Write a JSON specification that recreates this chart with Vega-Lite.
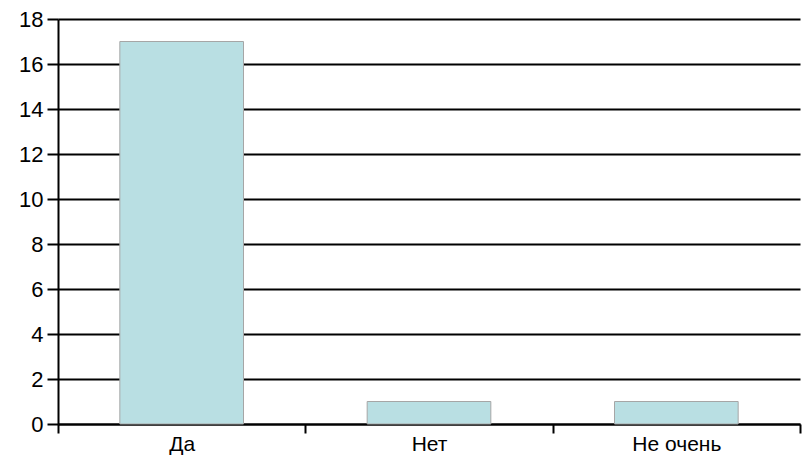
{
  "$schema": "https://vega.github.io/schema/vega-lite/v6.json",
  "width": 742,
  "height": 405,
  "autosize": {"type": "none"},
  "padding": {"left": 58, "top": 19, "right": 4, "bottom": 42},
  "background": "white",
  "config": {"view": {"stroke": null}, "font": "Liberation Sans"},
  "data": {"values": [
    {"answer": "Да", "count": 17},
    {"answer": "Нет", "count": 1},
    {"answer": "Не очень", "count": 1}
  ]},
  "mark": {"type": "bar", "color": "#b9dfe3", "stroke": "#a6a6a6", "strokeWidth": 1, "width": {"band": 0.5}},
  "encoding": {
    "x": {
      "field": "answer", "type": "nominal", "sort": null,
      "scale": {"paddingInner": 0, "paddingOuter": 0},
      "axis": {"title": null, "labelAngle": 0, "labelFontSize": 21, "labelColor": "black",
               "labelFont": "Liberation Sans", "labelPadding": 0,
               "domainColor": "black", "domainWidth": 2, "tickBand": "extent",
               "tickColor": "black", "tickWidth": 2, "tickSize": 9}
    },
    "y": {
      "field": "count", "type": "quantitative",
      "scale": {"domain": [0, 18]},
      "axis": {"title": null, "values": [0,2,4,6,8,10,12,14,16,18], "labelFontSize": 22,
               "labelColor": "black", "labelFont": "Liberation Sans", "labelPadding": 4,
               "domainColor": "black", "domainWidth": 2, "tickColor": "black", "tickWidth": 2,
               "tickSize": 11, "grid": true, "gridColor": "black", "gridWidth": 2}
    }
  }
}
